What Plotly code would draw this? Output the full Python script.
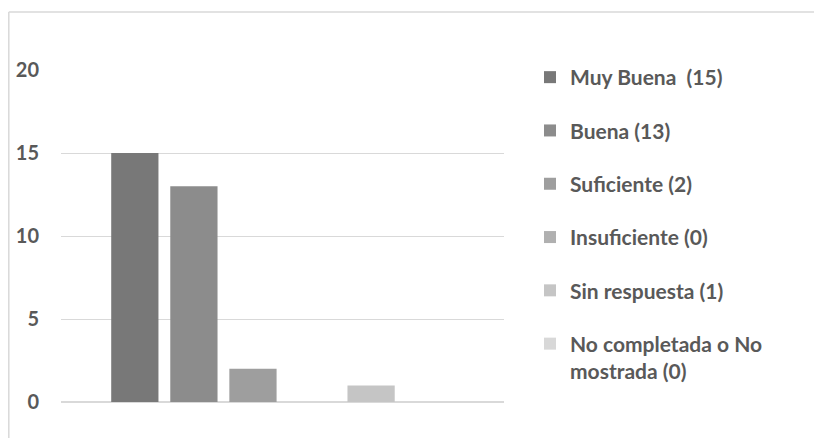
import plotly.graph_objects as go

categories = [""]
series_names = ["Muy Buena\u00a0\u00a0(15)", "Buena (13)", "Suficiente (2)", "Insuficiente (0)",
                "Sin respuesta (1)", "No completada o No<br>mostrada (0)"]
series_values = [15, 13, 2, 0, 1, 0]
series_colors = ["#787878", "#8c8c8c", "#9e9e9e", "#b0b0b0", "#c5c5c5", "#d8d8d8"]
y_ticks = [0, 5, 10, 15, 20]

FONT = "Lato"
TXT = "#595959"

fig = go.Figure()
for i, (name, val, col) in enumerate(zip(series_names, series_values, series_colors)):
    fig.add_trace(go.Bar(x=categories, y=[val], name=name, marker=dict(color=col, line=dict(width=0)),
                         legendgroup=f"g{i}"))

W, H = 822, 438
OFF = 8  # page body margin offset (screen = figure + OFF)


def px_x(sx):
    return (sx - OFF) / W


def px_y(sy):
    return 1 - (sy - OFF) / H


border = dict(color="#d9d9d9", width=1.5)

fig.update_layout(
    width=W, height=H,
    margin=dict(l=0, r=0, t=0, b=0, pad=0, autoexpand=False),
    paper_bgcolor="white", plot_bgcolor="white",
    barmode="group", bargap=0.2, bargroupgap=0.2,
    font=dict(family=FONT, color=TXT, size=20),
    showlegend=True,
    legend=dict(
        x=px_x(530), xanchor="left", y=px_y(57), yanchor="top",
        font=dict(family=FONT, size=21, color=TXT, weight="bold"),
        tracegroupgap=23, traceorder="grouped", valign="top",
        bgcolor="rgba(0,0,0,0)",
    ),
    xaxis=dict(domain=[px_x(61), px_x(504)], showticklabels=False, showgrid=False,
               zeroline=False, showline=False, ticks="", automargin=False),
    yaxis=dict(domain=[px_y(402), px_y(70)], range=[0, 20], tickvals=y_ticks,
               ticktext=[str(t) for t in y_ticks],
               showgrid=True, gridcolor="#d9d9d9", gridwidth=1.3,
               zeroline=True, zerolinecolor="#d9d9d9", zerolinewidth=2,
               showline=False, ticks="", ticklabelstandoff=21, automargin=False,
               tickfont=dict(family=FONT, size=20, color=TXT, weight="bold")),
    shapes=[
        dict(type="line", xref="paper", yref="paper", x0=px_x(8.8), x1=1.0, y0=px_y(12), y1=px_y(12),
             line=border, layer="below"),
        dict(type="line", xref="paper", yref="paper", x0=px_x(8.8), x1=px_x(8.8), y0=px_y(12), y1=0.0,
             line=border, layer="below"),
    ],
)

fig.write_html("out.html")
